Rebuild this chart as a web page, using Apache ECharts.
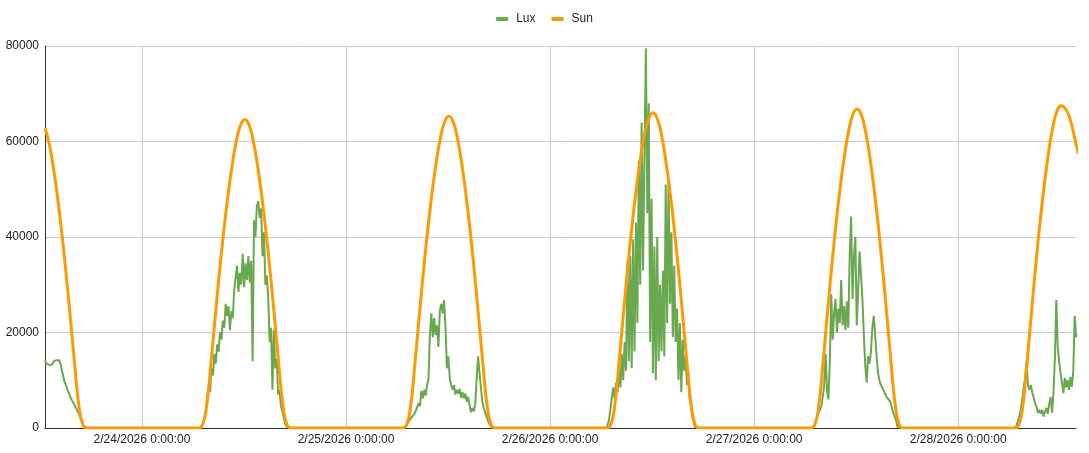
<!DOCTYPE html>
<html>
<head>
<meta charset="utf-8">
<script src="https://cdn.jsdelivr.net/npm/echarts@6/dist/echarts.min.js"></script>
<style>
html,body{margin:0;padding:0;background:#fff;}
#chart{width:1089px;height:453px;}
</style>
</head>
<body>
<div id="chart"></div>
<script>
// Hours measured from 2/24/2026 0:00:00
const xMinHour = -11.4;
const xMaxHour = 109.85;
const xTickHours = [0, 24, 48, 72, 96];
const xTickLabels = ['2/24/2026 0:00:00', '2/25/2026 0:00:00', '2/26/2026 0:00:00', '2/27/2026 0:00:00', '2/28/2026 0:00:00'];
const yTicks = [0, 20000, 40000, 60000, 80000];

// Lux readings, every 10 minutes, daylight part of each day (night readings are zero)
const LUX_STEP = 1 / 6;
const luxStart0223 = -11.4;
const lux0223 = [14200,13500,13600,13200,12800,13300,13900,13700,14200,14600,14200,13300,12000,10600,9500,8800,7900,7200,6400,5800,5300,4700,4100,3500,2900,2300,1500,500,0];
const luxStart0224 = 6.85;
const lux0224 = [0,300,900,2000,3500,6500,9000,7500,12500,11000,15500,13500,17500,16000,20000,18500,22500,21000,26000,23500,25500,20500,24500,23000,29000,31500,34000,28500,32500,30000,36500,29500,34500,31000,36000,30500,35000,14000,43500,40000,46500,47500,44000,46000,36000,41000,30000,32000,27500,18000,21000,8000,20500,12500,14500,7000,8000,4500,3500,2000,900,300,0];
const luxStart0225 = 30.7;
const lux0225 = [0,200,500,900,1300,1700,2200,2600,2900,3600,3800,5200,4600,7800,6200,8000,6800,9000,10200,19500,24000,19000,23000,19500,21500,17000,24500,26000,24000,26800,21000,12500,15000,10500,9000,8000,9000,7000,8000,7200,8200,6300,7500,6200,7200,5500,6500,4800,3300,4200,3500,5000,10500,15000,11500,8500,5500,4200,3200,2400,1500,900,400,0];
const luxStart0226 = 54.6;
const lux0226 = [0,600,1800,4000,6500,8500,6000,9500,7500,12000,8500,15500,10000,18000,12000,35000,14000,36000,12500,39500,16000,43000,22000,56000,30000,64000,33000,57000,79500,45000,68000,18000,48000,11500,38000,10000,40000,14000,30000,16000,33000,15000,51000,22000,51500,26000,41000,19000,34000,18000,25000,10000,22000,7500,18500,12000,15000,9000,11500,5500,4500,2000,900,0];
const luxStart0227 = 78.9;
const lux0227 = [0,500,1200,2200,3200,3800,4500,6500,9000,15500,8000,6000,14000,28000,18500,24000,27000,20000,25000,22000,31000,21500,25500,20500,26500,21000,36000,44300,27000,36000,40000,21500,29000,37000,32000,27000,19500,13000,9500,15000,13500,16000,21000,23500,19500,15000,11500,10000,9000,8500,7800,7200,6500,6800,5800,5200,4000,3000,2200,1300,0];
const luxStart0228 = 102.7;
const lux0228 = [0,600,1500,2600,4000,6000,8500,10500,14000,9000,8000,9000,7500,6500,5200,4500,3200,3800,3000,3800,2400,3400,4200,3000,5000,6500,3200,7500,14500,26800,17000,14000,11500,9500,7300,10500,8500,10000,8000,10700,8600,12000,23500,19000];

// Sun (computed clear-sky lux), every 30 minutes
const SUN_STEP = 0.5;
const sunStart0223 = -11.4;
const sun0223 = [62800,59470,54360,47960,40480,31980,22700,13110,4480,510,0,0];
const sunStart0224 = 6.1;
const sun0224 = [0,0,520,4520,13240,22930,32300,40890,48450,54910,60080,63440,64600,63440,60080,54910,48450,40890,32300,22930,13240,4520,520,0,0];
const sunStart0225 = 30.1;
const sun0225 = [0,0,520,4570,13390,23180,32650,41330,48980,55510,60730,64120,65300,64120,60730,55510,48980,41330,32650,23180,13390,4570,520,0,0];
const sunStart0226 = 54.1;
const sun0226 = [0,0,530,4620,13530,23430,33000,41780,49500,56100,61380,64810,66000,64810,61380,56100,49500,41780,33000,23430,13530,4620,530,0,0];
const sunStart0227 = 78.1;
const sun0227 = [0,0,530,4680,13690,23710,33400,42280,50100,56780,62120,65600,66800,65600,62120,56780,50100,42280,33400,23710,13690,4680,530,0,0];
const sunStart0228 = 102.1;
const sun0228 = [0,0,540,4730,13840,23960,33750,42730,50630,57380,62780,66290,67500,66900,65000,61500,57500];

function toPairs(start, step, values) {
  return values.map(function (v, i) { return [start + i * step, v]; });
}
// a break between the daylight runs of the lux sensor
function gapAfter(start, step, values) {
  return [[start + values.length * step, '-']];
}

const luxData = [].concat(
  toPairs(luxStart0223, LUX_STEP, lux0223), gapAfter(luxStart0223, LUX_STEP, lux0223),
  toPairs(luxStart0224, LUX_STEP, lux0224), gapAfter(luxStart0224, LUX_STEP, lux0224),
  toPairs(luxStart0225, LUX_STEP, lux0225), gapAfter(luxStart0225, LUX_STEP, lux0225),
  toPairs(luxStart0226, LUX_STEP, lux0226), gapAfter(luxStart0226, LUX_STEP, lux0226),
  toPairs(luxStart0227, LUX_STEP, lux0227), gapAfter(luxStart0227, LUX_STEP, lux0227),
  toPairs(luxStart0228, LUX_STEP, lux0228)
);
const sunData = [].concat(
  toPairs(sunStart0223, SUN_STEP, sun0223),
  toPairs(sunStart0224, SUN_STEP, sun0224),
  toPairs(sunStart0225, SUN_STEP, sun0225),
  toPairs(sunStart0226, SUN_STEP, sun0226),
  toPairs(sunStart0227, SUN_STEP, sun0227),
  toPairs(sunStart0228, SUN_STEP, sun0228)
);

const chart = echarts.init(document.getElementById('chart'), null, {renderer: 'canvas'});
const FONT = "'Liberation Sans', Arial, sans-serif";
chart.setOption({
  animation: false,
  backgroundColor: '#ffffff',
  textStyle: {fontFamily: FONT},
  legend: {
    data: ['Lux', 'Sun'],
    top: 8,
    left: 'center',
    icon: 'rect',
    itemWidth: 12,
    itemHeight: 4,
    itemGap: 16,
    textStyle: {fontFamily: FONT, fontSize: 12, color: '#222222', padding: [0, 0, 0, 3]}
  },
  grid: {left: 45, right: 13, top: 46, bottom: 25},
  xAxis: {
    type: 'value',
    min: xMinHour,
    max: xMaxHour,
    axisLine: {show: true, onZero: false, lineStyle: {color: '#333333', width: 1}},
    axisTick: {show: false, customValues: xTickHours},
    axisLabel: {
      customValues: xTickHours,
      margin: 6,
      fontSize: 12,
      color: '#222222',
      fontFamily: FONT,
      formatter: function (v) {
        const i = xTickHours.indexOf(Math.round(v));
        return i >= 0 ? xTickLabels[i] : '';
      }
    },
    splitLine: {show: true, lineStyle: {color: '#cccccc', width: 1}}
  },
  yAxis: {
    type: 'value',
    min: yTicks[0],
    max: yTicks[yTicks.length - 1],
    interval: yTicks[1] - yTicks[0],
    axisLine: {show: true, onZero: false, lineStyle: {color: '#333333', width: 1}},
    axisTick: {show: false},
    axisLabel: {margin: 6, fontSize: 12, color: '#222222', fontFamily: FONT, formatter: function (v) { return String(v); }},
    splitLine: {show: true, lineStyle: {color: '#cccccc', width: 1}}
  },
  series: [
    {
      name: 'Lux',
      type: 'line',
      data: luxData,
      showSymbol: false,
      symbol: 'none',
      connectNulls: false,
      color: '#6aa84f',
      lineStyle: {color: '#6aa84f', width: 2},
      z: 2
    },
    {
      name: 'Sun',
      type: 'line',
      data: sunData,
      showSymbol: false,
      symbol: 'none',
      smooth: true,
      color: '#ff9900',
      lineStyle: {color: '#ff9900', width: 3},
      z: 3
    }
  ]
});
</script>
</body>
</html>
